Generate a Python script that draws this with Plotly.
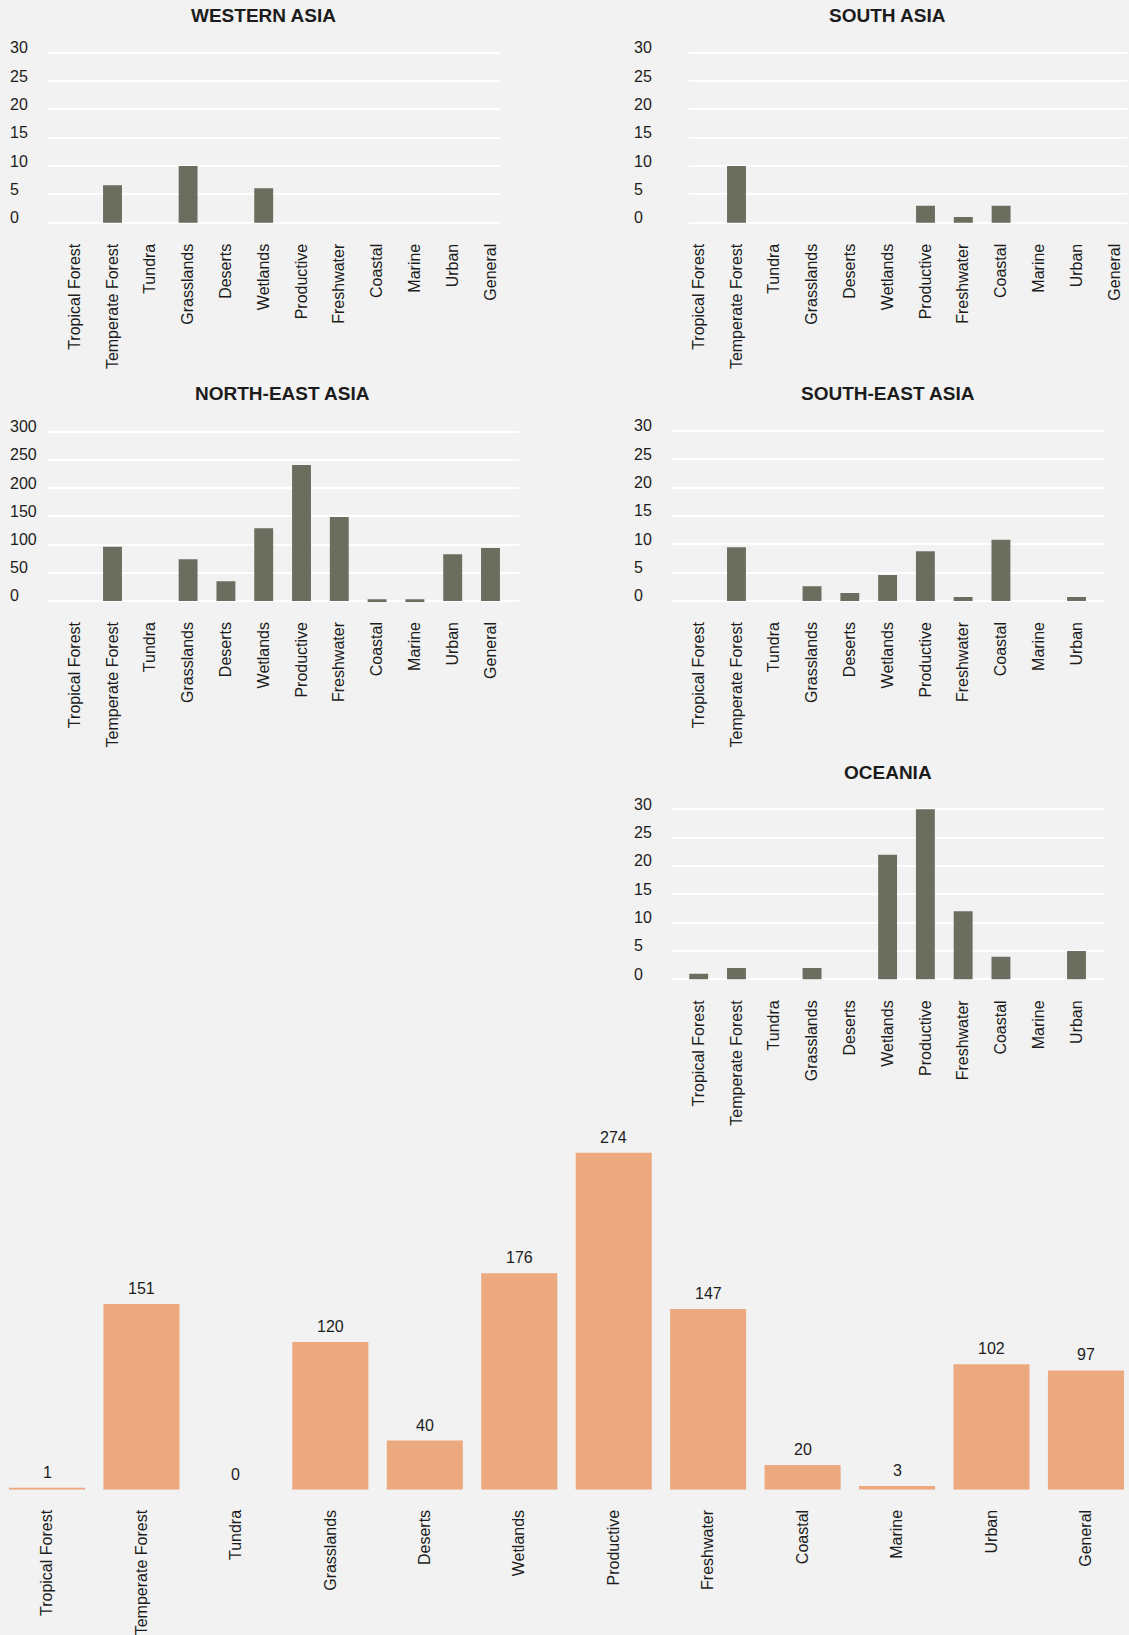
import plotly.graph_objects as go

# ---------------- data ----------------
categories = ["Tropical Forest", "Temperate Forest", "Tundra", "Grasslands", "Deserts",
              "Wetlands", "Productive", "Freshwater", "Coastal", "Marine", "Urban", "General"]
categories_11 = categories[:11]

western_asia = [0, 6.6, 0, 10, 0, 6.1, 0, 0, 0, 0, 0, 0]
south_asia = [0, 10, 0, 0, 0, 0, 3, 1, 3, 0, 0, 0]
north_east_asia = [0, 96, 0, 74, 35, 129, 241, 149, 3, 3, 83, 94]
south_east_asia = [0, 9.5, 0, 2.6, 1.4, 4.6, 8.8, 0.7, 10.8, 0, 0.7]
oceania = [1, 2, 0, 2, 0, 22, 30, 12, 4, 0, 5]
totals = [1, 151, 0, 120, 40, 176, 274, 147, 20, 3, 102, 97]

ticks_small = [0, 5, 10, 15, 20, 25, 30]
ticks_large = [0, 50, 100, 150, 200, 250, 300]

# ---------------- layout helpers (pixels) ----------------
W, H = 1129, 1635
BG = "#F2F2F2"
BAR_DARK = "#6B6E5E"
BAR_ORANGE = "#ECA87E"
TXT = "#1C1C1C"
FONT = "Liberation Sans, Arial, Helvetica, sans-serif"

panels = [
    dict(title="WESTERN ASIA", cats=categories, vals=western_asia, ticks=ticks_small,
         x0=47, x1=500, c0=74.7, s=37.8, zero=222.7, top=52.7, tx=263.7, ty=15.8, lx=7.5),
    dict(title="SOUTH ASIA", cats=categories, vals=south_asia, ticks=ticks_small,
         x0=689.3, x1=1127, c0=698.7, s=37.8, zero=222.7, top=52.7, tx=887.8, ty=15.8, lx=632),
    dict(title="NORTH-EAST ASIA", cats=categories, vals=north_east_asia, ticks=ticks_large,
         x0=46.7, x1=519, c0=74.7, s=37.8, zero=601, top=431.7, tx=282.8, ty=393.8, lx=7.5),
    dict(title="SOUTH-EAST ASIA", cats=categories_11, vals=south_east_asia, ticks=ticks_small,
         x0=670.7, x1=1105, c0=698.7, s=37.78, zero=601, top=431, tx=887.8, ty=393.8, lx=632),
    dict(title="OCEANIA", cats=categories_11, vals=oceania, ticks=ticks_small,
         x0=670.7, x1=1105, c0=698.7, s=37.78, zero=979.3, top=809.3, tx=887.8, ty=772.2, lx=632),
]

fig = go.Figure()
annotations = []
layout_axes = {}

for i, p in enumerate(panels, start=1):
    xa = "x" if i == 1 else f"x{i}"
    ya = "y" if i == 1 else f"y{i}"
    xkey = "xaxis" if i == 1 else f"xaxis{i}"
    ykey = "yaxis" if i == 1 else f"yaxis{i}"
    fig.add_trace(go.Bar(x=p["cats"], y=p["vals"], xaxis=xa, yaxis=ya, width=0.5,
                         marker=dict(color=BAR_DARK, line=dict(width=0)),
                         showlegend=False, hoverinfo="x+y"))
    top_val = p["ticks"][-1]
    pad = top_val / 60.0
    ppu = (p["zero"] - p["top"]) / top_val
    dom_b = p["zero"] + pad * ppu
    dom_t = p["top"] - pad * ppu
    layout_axes[xkey] = dict(
        domain=[p["x0"] / W, p["x1"] / W], anchor=ya, type="category",
        categoryorder="array", categoryarray=p["cats"],
        range=[(p["x0"] - p["c0"]) / p["s"], (p["x1"] - p["c0"]) / p["s"]],
        showgrid=False, showline=False, zeroline=False, ticks="",
        tickangle=-90, tickfont=dict(family=FONT, size=16, color=TXT),
        ticklabelstandoff=14, automargin=False, fixedrange=True)
    layout_axes[ykey] = dict(
        domain=[1 - dom_b / H, 1 - dom_t / H], anchor=xa, range=[-pad, top_val + pad],
        tickmode="array", tickvals=p["ticks"], showticklabels=False,
        showgrid=True, gridcolor="white", gridwidth=2, zeroline=False,
        showline=False, ticks="", automargin=False, fixedrange=True)
    annotations.append(dict(text=p["title"], xref="paper", yref="paper",
                            x=p["tx"] / W, y=1 - p["ty"] / H, xanchor="center", yanchor="middle",
                            showarrow=False,
                            font=dict(family=FONT, size=19, color=TXT, weight="bold")))
    for t in p["ticks"]:
        annotations.append(dict(text=str(t), xref="paper", yref=ya, x=p["lx"] / W, y=t,
                                xanchor="left", yanchor="middle", yshift=5, showarrow=False,
                                font=dict(family=FONT, size=16, color=TXT)))

# ---------------- bottom totals chart ----------------
bi = len(panels) + 1
bxa, bya = f"x{bi}", f"y{bi}"
fig.add_trace(go.Bar(x=categories, y=totals, xaxis=bxa, yaxis=bya, width=0.805,
                     marker=dict(color=BAR_ORANGE, line=dict(width=0)),
                     showlegend=False, hoverinfo="x+y"))
b_zero, b_ppu, b_c0, b_s = 1489.7, 1.23, 47.0, 94.45
layout_axes[f"xaxis{bi}"] = dict(
    domain=[0, 1], anchor=bya, type="category", categoryorder="array", categoryarray=categories,
    range=[(0 - b_c0) / b_s, (W - b_c0) / b_s], showgrid=False, showline=False, zeroline=False,
    ticks="", tickangle=-90, tickfont=dict(family=FONT, size=16, color=TXT),
    ticklabelstandoff=16, automargin=False, fixedrange=True)
layout_axes[f"yaxis{bi}"] = dict(
    domain=[1 - b_zero / H, 1 - (b_zero - 300 * b_ppu) / H], anchor=bxa, range=[0, 300],
    showgrid=False, showticklabels=False, zeroline=False, showline=False, ticks="",
    automargin=False, fixedrange=True)
for c, v in zip(categories, totals):
    annotations.append(dict(text=str(v), xref=bxa, yref=bya, x=c, y=v, xanchor="center",
                            yanchor="bottom", yshift=5, showarrow=False,
                            font=dict(family=FONT, size=16, color=TXT)))

fig.update_layout(
    width=W, height=H, margin=dict(l=0, r=0, t=0, b=0, pad=0),
    paper_bgcolor=BG, plot_bgcolor=BG, template="none",
    font=dict(family=FONT, color=TXT), showlegend=False,
    annotations=annotations, bargap=0.5, **layout_axes)

fig.write_html("out.html",
               config={"displayModeBar": False},
               post_script="document.body.style.margin='0';document.body.style.background='#F2F2F2';"
                           "document.documentElement.style.overflow='hidden';")
